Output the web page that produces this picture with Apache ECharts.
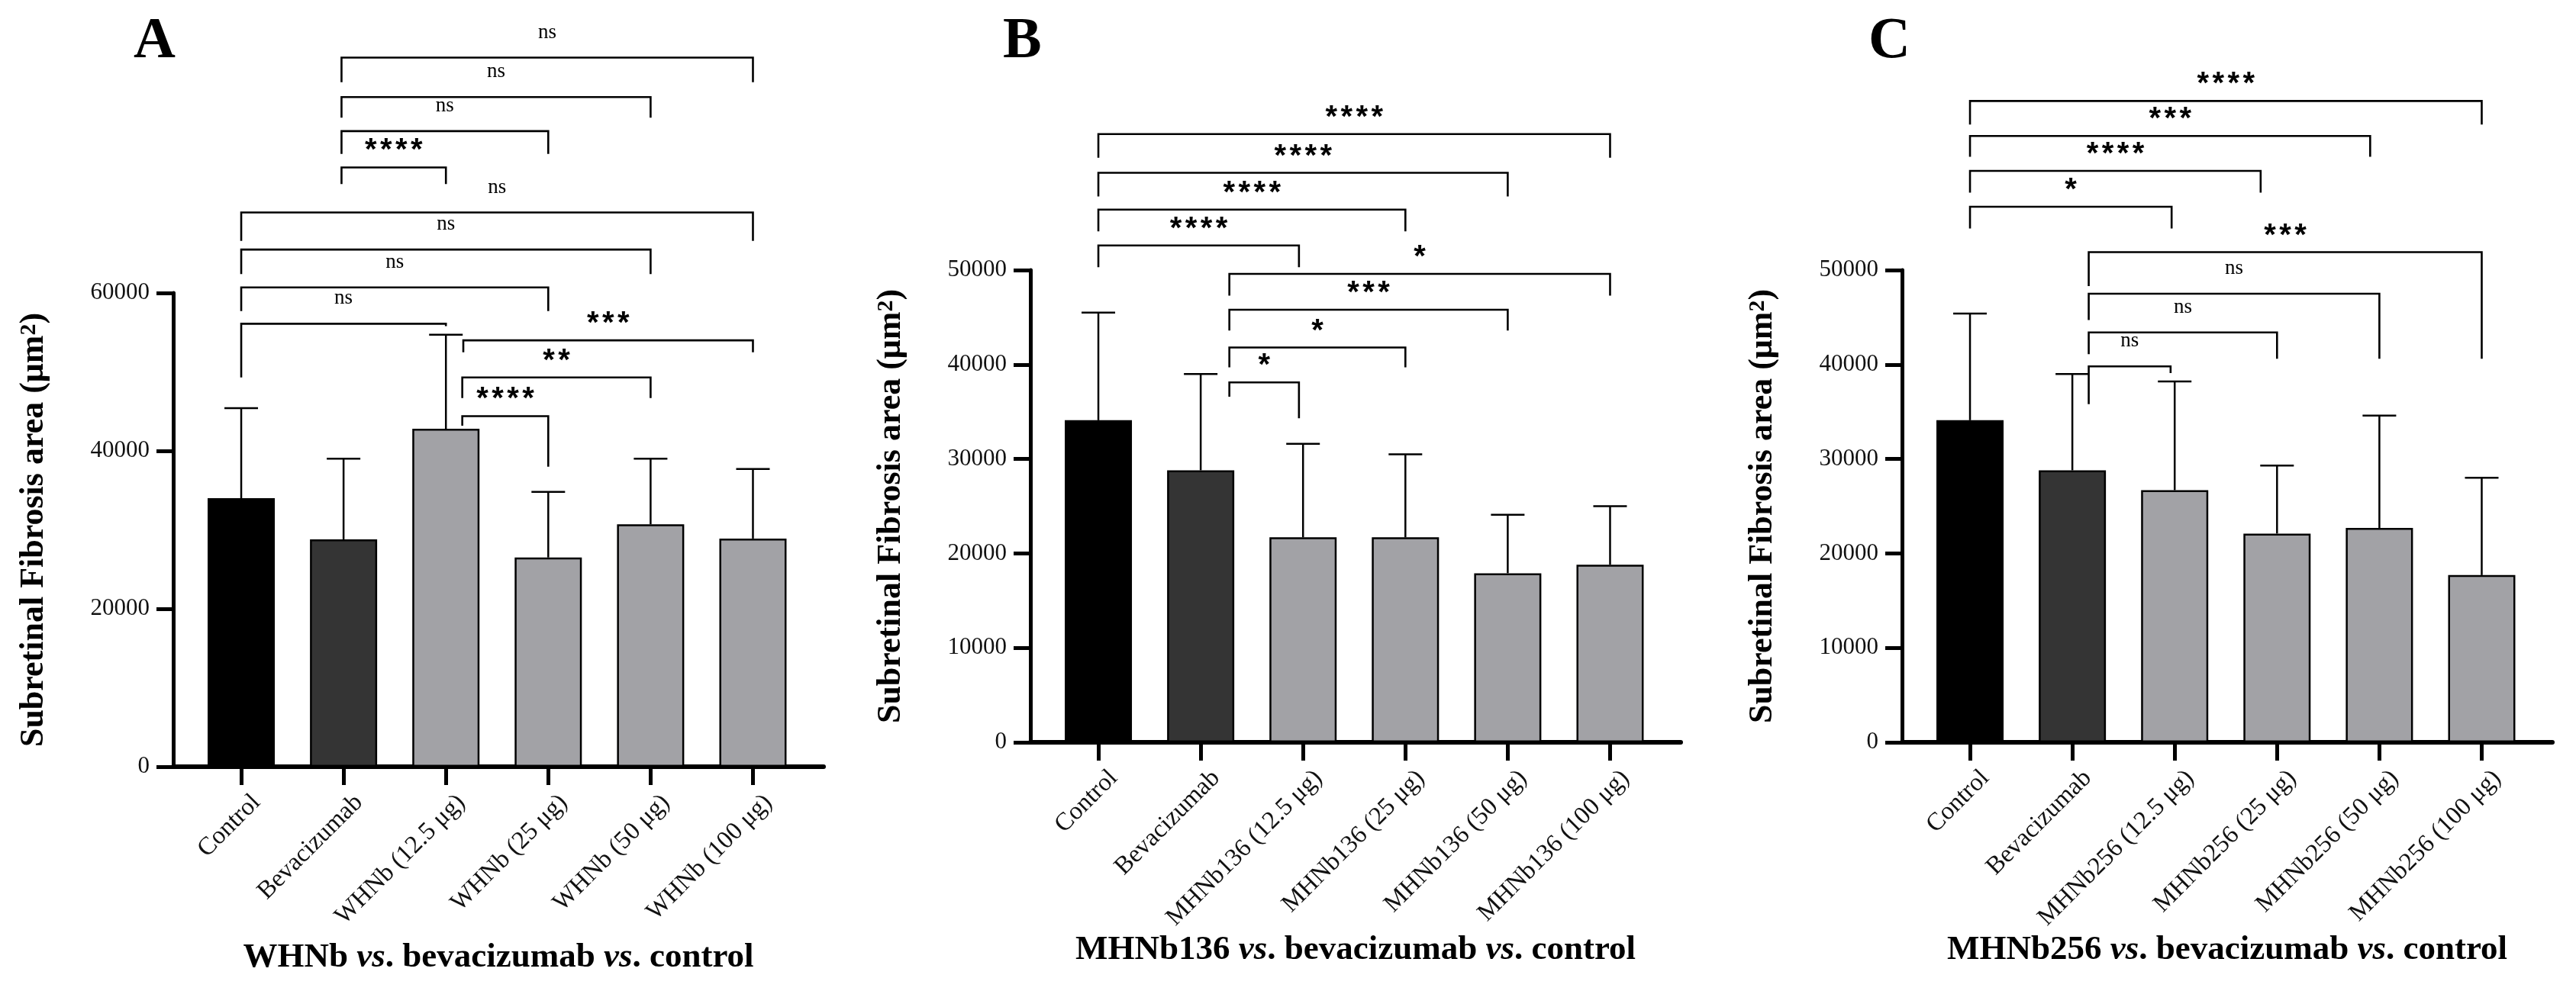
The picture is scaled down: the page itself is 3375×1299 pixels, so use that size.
<!DOCTYPE html>
<html>
<head>
<meta charset="utf-8">
<title>Subretinal fibrosis area</title>
<script src="https://cdn.jsdelivr.net/npm/echarts@6/dist/echarts.min.js"></script>
<style>
  html, body { margin: 0; padding: 0; background: #fff; }
  #main { width: 3375px; height: 1299px; }
</style>
</head>
<body>
<div id="main"></div>
<script>
// ---- data ----
var catsA = ['Control', 'Bevacizumab', 'WHNb (12.5 μg)', 'WHNb (25 μg)', 'WHNb (50 μg)', 'WHNb (100 μg)'];
var catsB = ['Control', 'Bevacizumab', 'MHNb136 (12.5 μg)', 'MHNb136 (25 μg)', 'MHNb136 (50 μg)', 'MHNb136 (100 μg)'];
var catsC = ['Control', 'Bevacizumab', 'MHNb256 (12.5 μg)', 'MHNb256 (25 μg)', 'MHNb256 (50 μg)', 'MHNb256 (100 μg)'];

var meanA = [34000, 28800, 42800, 26500, 30700, 28900];
var errTopA = [45400, 39000, 54700, 34800, 39000, 37700];
var meanB = [34100, 28800, 21700, 21700, 17900, 18800];
var errTopB = [45500, 39000, 31600, 30500, 24100, 25000];
var meanC = [34100, 28800, 26700, 22100, 22700, 17700];
var errTopC = [45400, 39000, 38200, 29300, 34600, 28000];

// brackets: [from group, to group, line level, left leg end, right leg end]
var pairsA = [
    [0.98, 5, 89800, 86700, 86700],
    [0.98, 4, 84800, 82200, 82200],
    [0.98, 3, 80500, 77600, 77600],
    [0.98, 2, 75900, 73800, 73800],
    [0, 5, 70200, 66600, 66600],
    [0, 4, 65500, 62400, 62400],
    [0, 3, 60700, 57700, 57700],
    [0, 2, 56100, 49300, 55800],
    [2.17, 5, 54000, 52500, 52500],
    [2.16, 4, 49300, 46700, 46700],
    [2.16, 3, 44400, 43200, 38000]
];
var sigA = ['ns', 'ns', 'ns', '****', 'ns', 'ns', 'ns', 'ns', '***', '**', '****'];

var pairsB = [
    [0, 5, 64400, 61900, 61900],
    [0, 4, 60300, 57800, 57800],
    [0, 3, 56400, 54100, 54100],
    [0, 1.96, 52600, 50300, 50300],
    [1.28, 5, 49600, 47300, 47300],
    [1.28, 4, 45800, 43600, 43600],
    [1.28, 3, 41800, 39700, 39700],
    [1.28, 1.96, 38100, 36600, 34300]
];
var sigB = ['****', '****', '****', '****', '*', '***', '*', '*'];

var pairsC = [
    [0, 5, 67900, 65400, 65400],
    [0, 3.91, 64200, 62000, 62000],
    [0, 2.84, 60500, 58200, 58200],
    [0, 1.97, 56700, 54400, 54400],
    [1.16, 5, 51900, 48300, 40600],
    [1.16, 4, 47500, 44700, 40600],
    [1.16, 3, 43400, 41100, 40600],
    [1.16, 1.96, 39800, 35800, 39100]
];
var sigC = ['****', '***', '****', '*', '***', 'ns', 'ns', 'ns'];

var yMaxA = 60000, yStepA = 20000;
var yMaxBC = 50000, yStepBC = 10000;

// ---- styles ----
var barColors = ['#000000', '#343434', '#a2a2a6', '#a2a2a6', '#a2a2a6', '#a2a2a6'];
var serif = 'Liberation Serif';
var groupTicks = [0, 1, 2, 3, 4, 5];
var labelAt = [0.15, 1.15, 2.15, 3.15, 4.15, 5.15];

var myChart = echarts.init(document.getElementById('main'));

function renderErr(params, api) {
    var p0 = api.coord([api.value(0), api.value(1)]);
    var p1 = api.coord([api.value(0), api.value(2)]);
    return {
        type: 'group',
        children: [
            { type: 'line', shape: { x1: p0[0], y1: p0[1], x2: p1[0], y2: p1[1] }, style: { stroke: '#000', lineWidth: 2.5 } },
            { type: 'line', shape: { x1: p1[0] - 22, y1: p1[1], x2: p1[0] + 22, y2: p1[1] }, style: { stroke: '#000', lineWidth: 2.5 } }
        ]
    };
}

function bracketRenderer(sig) {
    return function (params, api) {
        var x1 = api.value(0), x2 = api.value(1);
        var a = api.coord([x1, api.value(3)]);
        var b = api.coord([x1, api.value(2)]);
        var c = api.coord([x2, api.value(2)]);
        var d = api.coord([x2, api.value(4)]);
        var mid = (b[0] + c[0]) / 2;
        var txt = sig[params.dataIndex];
        var kids = [{
            type: 'polyline',
            shape: { points: [a, b, c, d] },
            style: { stroke: '#000', lineWidth: 2.6, fill: null }
        }];
        if (txt.charAt(0) === '*') {
            // asterisks are set one by one, spaced like the original
            var n = txt.length, gap = 20;
            for (var k = 0; k < n; k++) {
                kids.push({
                    type: 'text',
                    style: {
                        text: '*', x: mid + (k - (n - 1) / 2) * gap, y: b[1] - 21,
                        align: 'center', verticalAlign: 'middle',
                        font: 'bold 40px "Liberation Sans"', fill: '#000'
                    }
                });
            }
        } else {
            kids.push({
                type: 'text',
                style: {
                    text: txt, x: mid, y: b[1] - 33,
                    align: 'center', verticalAlign: 'middle',
                    font: '27px "' + serif + '"', fill: '#000'
                }
            });
        }
        return { type: 'group', children: kids };
    };
}

function xAxisFor(idx, cats, titleRich) {
    return {
        type: 'value', gridIndex: idx, min: -0.664, max: 5.69,
        splitLine: { show: false },
        axisLine: { onZero: false, lineStyle: { color: '#000', width: 6 } },
        axisTick: { customValues: groupTicks, length: 24, lineStyle: { color: '#000', width: 5 } },
        axisLabel: {
            customValues: labelAt, rotate: 45, margin: 42,
            fontFamily: serif, fontSize: 33, color: '#111',
            formatter: function (v) { return cats[Math.round(v)]; }
        },
        name: titleRich, nameLocation: 'middle', nameGap: 228,
        nameTextStyle: {
            rich: {
                b: { fontFamily: serif, fontSize: 45, fontWeight: 'bold', color: '#000' },
                i: { fontFamily: serif, fontSize: 45, fontWeight: 'bold', fontStyle: 'italic', color: '#000' }
            }
        }
    };
}

function yAxisFor(idx, max, step) {
    return {
        type: 'value', gridIndex: idx, min: 0, max: max, interval: step,
        splitLine: { show: false },
        axisLine: { show: true, onZero: false, lineStyle: { color: '#000', width: 5 } },
        axisTick: { show: true, length: 22, lineStyle: { color: '#000', width: 5 } },
        axisLabel: {
            fontFamily: serif, fontSize: 31, color: '#111', margin: 31,
            formatter: function (v) { return String(v); }
        },
        name: 'Subretinal Fibrosis area (μm{s|2})',
        nameLocation: 'middle', nameRotate: 90, nameGap: 160,
        nameTextStyle: {
            fontFamily: serif, fontSize: 44, fontWeight: 'bold', color: '#000',
            rich: { s: { fontFamily: serif, fontSize: 30, fontWeight: 'bold', color: '#000', verticalAlign: 'top', lineHeight: 30 } }
        }
    };
}

function panelSeries(idx, means, tops, pairs, sig) {
    return [
        {
            type: 'bar', xAxisIndex: idx, yAxisIndex: idx, barWidth: 88,
            data: means.map(function (m, i) { return [i, m]; }),
            itemStyle: {
                color: function (p) { return barColors[p.dataIndex]; },
                borderColor: '#000', borderWidth: 2.5
            },
            z: 2
        },
        {
            type: 'custom', xAxisIndex: idx, yAxisIndex: idx, clip: false, z: 3,
            renderItem: renderErr,
            encode: { x: 0, y: [1, 2] },
            data: means.map(function (m, i) { return [i, m, tops[i]]; })
        },
        {
            type: 'custom', xAxisIndex: idx, yAxisIndex: idx, clip: false, z: 4,
            renderItem: bracketRenderer(sig),
            encode: { x: [0, 1], y: [2, 3, 4] },
            data: pairs
        }
    ];
}

var letterStyle = { fontFamily: serif, fontSize: 76, fontWeight: 'bold', color: '#000' };

var option = {
    backgroundColor: '#ffffff',
    animation: false,
    title: [
        { text: 'A', left: 170, top: 12, textStyle: letterStyle },
        { text: 'B', left: 1309, top: 12, textStyle: letterStyle },
        { text: 'C', left: 2443, top: 12, textStyle: letterStyle }
    ],
    grid: [
        { left: 227, top: 384, width: 852, height: 621 },
        { left: 1350, top: 354, width: 852, height: 619 },
        { left: 2492, top: 354, width: 852, height: 619 }
    ],
    xAxis: [
        xAxisFor(0, catsA, '{b|WHNb }{i|vs}{b|. bevacizumab }{i|vs}{b|. control}'),
        xAxisFor(1, catsB, '{b|MHNb136 }{i|vs}{b|. bevacizumab }{i|vs}{b|. control}'),
        xAxisFor(2, catsC, '{b|MHNb256 }{i|vs}{b|. bevacizumab }{i|vs}{b|. control}')
    ],
    yAxis: [
        yAxisFor(0, yMaxA, yStepA),
        yAxisFor(1, yMaxBC, yStepBC),
        yAxisFor(2, yMaxBC, yStepBC)
    ],
    series: [].concat(
        panelSeries(0, meanA, errTopA, pairsA, sigA),
        panelSeries(1, meanB, errTopB, pairsB, sigB),
        panelSeries(2, meanC, errTopC, pairsC, sigC)
    )
};

myChart.setOption(option);
</script>
</body>
</html>
